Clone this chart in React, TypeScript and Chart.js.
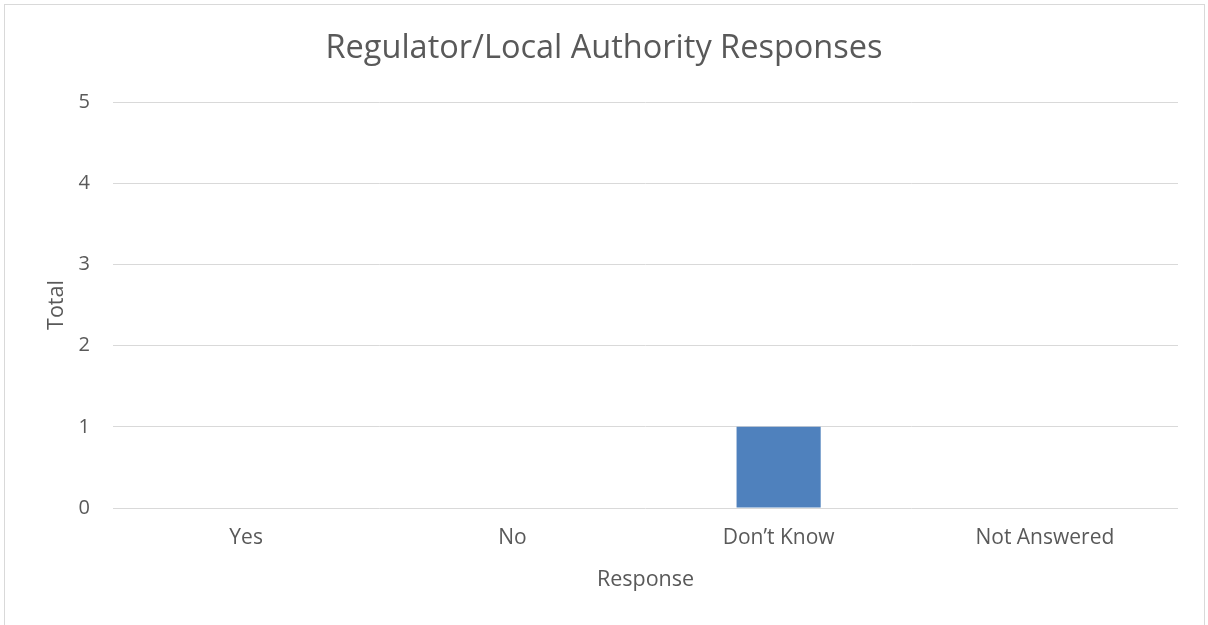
import React, { useEffect, useRef } from "react";
import { Chart, registerables } from "chart.js";

Chart.register(...registerables);

const categories = ["Yes", "No", "Don’t Know", "Not Answered"];
const totals = [0, 0, 1, 0];
const yTicks = [0, 1, 2, 3, 4, 5];

const TEXT = "#595959";
const GRID = "#d9d9d9";
const FONT = "'Open Sans', sans-serif";

export default function App() {
  const ref = useRef<HTMLCanvasElement | null>(null);

  useEffect(() => {
    if (!ref.current) return;
    const chart = new Chart(ref.current, {
      type: "bar",
      data: {
        labels: categories,
        datasets: [
          {
            label: "Total",
            data: totals,
            backgroundColor: "#4f81bd",
            borderWidth: 0,
            categoryPercentage: 1,
            barPercentage: 0.316,
          },
        ],
      },
      options: {
        animation: false,
        responsive: false,
        maintainAspectRatio: false,
        layout: { padding: { left: 30, right: 30, top: 0, bottom: 0 } },
        plugins: {
          legend: { display: false },
          tooltip: { enabled: false },
          title: {
            display: true,
            text: "Regulator/Local Authority Responses",
            color: TEXT,
            font: { family: FONT, size: 32.5, weight: "normal" },
            padding: { top: 29, bottom: 34 },
          },
        },
        scales: {
          x: {
            grid: { display: false, drawTicks: false },
            border: { display: false },
            ticks: {
              color: TEXT,
              font: { family: FONT, size: 21 },
              padding: 17,
              maxRotation: 0,
            },
            title: {
              display: true,
              text: "Response",
              color: TEXT,
              font: { family: FONT, size: 21.5 },
              padding: { top: 0, bottom: 32 },
            },
            afterFit: (s: any) => {
              s.height = 625 - 508;
            },
          },
          y: {
            min: 0,
            max: 5,
            afterBuildTicks: (s: any) => {
              s.ticks = yTicks.map((v) => ({ value: v }));
            },
            grid: { color: GRID, lineWidth: 1, drawTicks: false },
            border: { display: false },
            ticks: {
              color: TEXT,
              font: { family: FONT, size: 20 },
              padding: 23,
            },
            title: {
              display: true,
              text: "Total",
              color: TEXT,
              font: { family: FONT, size: 21.5 },
              padding: { top: 14, bottom: 0 },
            },
            afterFit: (s: any) => {
              s.width = 113 - 30;
            },
          },
        },
      },
    });
    return () => chart.destroy();
  }, []);

  return (
    <div
      style={{
        position: "fixed",
        left: 0,
        top: 0,
        width: 1208,
        height: 625,
        background: "#fff",
        overflow: "hidden",
      }}
    >
      <div
        style={{
          position: "absolute",
          left: 4,
          top: 4,
          width: 1201,
          height: 640,
          border: "1px solid #d9d9d9",
          boxSizing: "border-box",
        }}
      />
      <canvas
        ref={ref}
        width={1208}
        height={625}
        style={{ position: "absolute", left: 0, top: 0 }}
      />
    </div>
  );
}
